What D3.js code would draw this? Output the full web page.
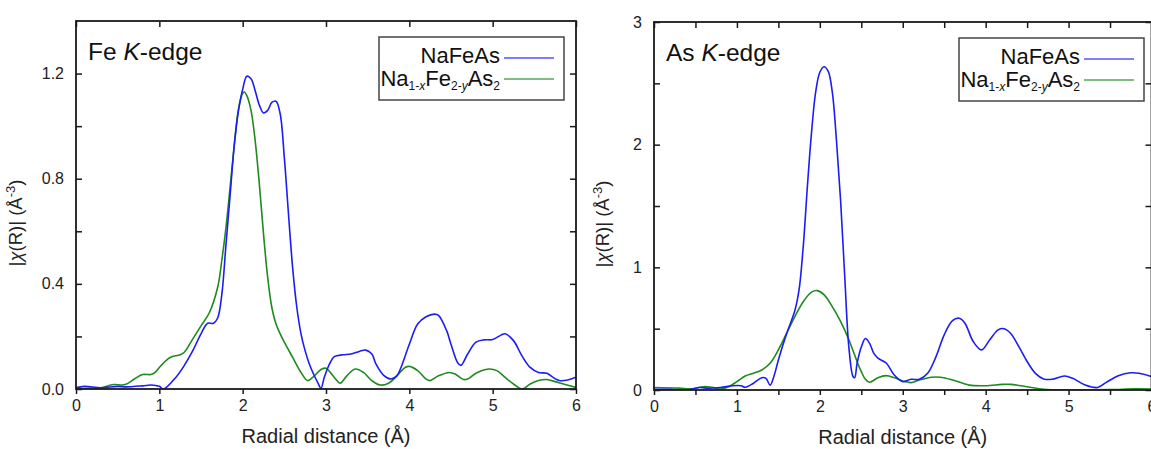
<!DOCTYPE html>
<html>
<head>
<meta charset="utf-8">
<script src="https://cdn.jsdelivr.net/npm/d3@7"></script>
<style>
  html, body { margin: 0; padding: 0; background: #fff; }
  svg { display: block; font-family: "Liberation Sans", Arial, sans-serif; }
</style>
</head>
<body>
<svg id="chart" width="1151" height="449"></svg>
<script>
// Fourier-transform magnitudes |χ(R)| for NaFeAs and Na1-xFe2-yAs2

const seriesNames = ["NaFeAs", "Na1-xFe2-yAs2"];

// Fe K-edge
const feR_NaFeAs = [0,0.1,0.3,0.5,0.6,0.8,0.9,1.0,1.05,1.2,1.3,1.4,1.5,1.58,1.65,1.7,1.75,1.8,1.85,1.9,1.95,2.0,2.05,2.1,2.15,2.2,2.25,2.3,2.35,2.4,2.45,2.5,2.55,2.6,2.65,2.7,2.75,2.8,2.85,2.9,2.94,2.98,3.05,3.1,3.2,3.3,3.4,3.48,3.55,3.6,3.7,3.78,3.85,3.9,4.0,4.1,4.2,4.3,4.35,4.45,4.5,4.58,4.62,4.7,4.8,4.9,5.0,5.1,5.15,5.25,5.35,5.45,5.55,5.65,5.72,5.8,5.9,6.0];
const feChi_NaFeAs = [0.005,0.01,0.005,0.01,0.008,0.012,0.015,0.01,0.0,0.045,0.09,0.145,0.21,0.25,0.25,0.27,0.36,0.55,0.74,0.93,1.06,1.14,1.19,1.18,1.135,1.08,1.05,1.06,1.09,1.095,1.047,0.88,0.665,0.46,0.31,0.21,0.145,0.095,0.057,0.025,0.003,0.045,0.10,0.123,0.13,0.133,0.143,0.148,0.133,0.095,0.05,0.038,0.05,0.082,0.17,0.247,0.275,0.285,0.28,0.22,0.17,0.10,0.09,0.133,0.178,0.187,0.188,0.205,0.21,0.184,0.127,0.082,0.063,0.06,0.045,0.032,0.034,0.045];

const feR_NaFe2As2 = [0,0.2,0.3,0.45,0.55,0.6,0.7,0.8,0.9,0.95,1.0,1.1,1.15,1.25,1.3,1.4,1.5,1.6,1.7,1.75,1.8,1.85,1.9,1.95,2.0,2.02,2.05,2.1,2.15,2.2,2.25,2.3,2.35,2.4,2.45,2.5,2.6,2.7,2.78,2.85,2.95,3.0,3.1,3.17,3.25,3.35,3.45,3.55,3.65,3.75,3.85,3.95,4.0,4.1,4.2,4.25,4.35,4.48,4.55,4.65,4.7,4.8,4.95,5.05,5.15,5.25,5.35,5.45,5.55,5.65,5.75,5.85,6.0];
const feChi_NaFe2As2 = [0.0,0.003,0.005,0.017,0.015,0.018,0.038,0.055,0.055,0.063,0.082,0.114,0.123,0.13,0.14,0.19,0.24,0.29,0.387,0.49,0.615,0.77,0.93,1.065,1.125,1.13,1.116,1.06,0.945,0.78,0.59,0.425,0.31,0.247,0.21,0.178,0.12,0.063,0.032,0.047,0.076,0.079,0.044,0.022,0.05,0.076,0.063,0.032,0.015,0.022,0.05,0.082,0.086,0.07,0.038,0.032,0.05,0.063,0.057,0.036,0.038,0.06,0.076,0.07,0.044,0.019,0.0,0.019,0.032,0.036,0.028,0.019,0.006];

// As K-edge
const asR_NaFeAs = [0,0.2,0.4,0.55,0.65,0.8,0.95,1.05,1.1,1.2,1.3,1.35,1.4,1.45,1.5,1.6,1.7,1.75,1.8,1.85,1.9,1.95,2.0,2.05,2.1,2.15,2.2,2.25,2.3,2.35,2.4,2.42,2.45,2.5,2.55,2.6,2.65,2.7,2.8,2.9,3.0,3.1,3.2,3.3,3.4,3.5,3.6,3.68,3.75,3.85,3.95,4.05,4.15,4.22,4.3,4.4,4.5,4.6,4.7,4.8,4.95,5.05,5.2,5.35,5.45,5.6,5.75,5.85,6.0];
const asChi_NaFeAs = [0.005,0.005,0.0,0.02,0.014,0.02,0.035,0.035,0.022,0.055,0.10,0.095,0.04,0.12,0.245,0.46,0.65,0.82,1.17,1.66,2.1,2.43,2.59,2.635,2.60,2.43,2.04,1.55,0.93,0.35,0.11,0.10,0.22,0.35,0.42,0.38,0.30,0.26,0.22,0.12,0.068,0.087,0.087,0.136,0.27,0.45,0.565,0.585,0.545,0.395,0.327,0.41,0.49,0.50,0.463,0.354,0.232,0.136,0.09,0.087,0.114,0.095,0.04,0.02,0.06,0.117,0.14,0.136,0.11];

const asR_NaFe2As2 = [0,0.3,0.45,0.6,0.7,0.8,0.9,1.0,1.1,1.2,1.3,1.4,1.5,1.6,1.7,1.8,1.9,1.97,2.05,2.15,2.25,2.35,2.45,2.5,2.55,2.6,2.7,2.8,2.9,3.0,3.1,3.2,3.35,3.45,3.6,3.8,4.0,4.2,4.3,4.5,4.7,5.0,5.5,5.8,6.0];
const asChi_NaFe2As2 = [0.02,0.015,0.01,0.027,0.022,0.008,0.027,0.068,0.114,0.136,0.163,0.218,0.327,0.463,0.6,0.72,0.798,0.81,0.777,0.68,0.56,0.41,0.23,0.15,0.087,0.063,0.10,0.117,0.10,0.074,0.06,0.082,0.104,0.104,0.082,0.04,0.035,0.046,0.046,0.027,0.005,0.0,0.003,0.01,0.008];

// Axis ticks
const feYTicks = [0, 0.2, 0.4, 0.6, 0.8, 1.0, 1.2];
const feYLabels = [0, 0.4, 0.8, 1.2];
const feXTicks = [0, 1, 2, 3, 4, 5, 6];
const asYTicks = [0, 0.5, 1, 1.5, 2, 2.5, 3];
const asYLabels = [0, 1, 2, 3];
const asXTicks = [0, 0.5, 1, 1.5, 2, 2.5, 3, 3.5, 4, 4.5, 5, 5.5, 6];
const asXLabels = [0, 1, 2, 3, 4, 5, 6];

const colors = { blue: "#1c1cf5", green: "#1f8a1f" };

const svg = d3.select("#chart");

function zip(xs, ys) { return xs.map((x, i) => [x, ys[i]]); }

function panel(opt) {
  const { left, right, top, bottom, yMax, yTicks, yLabels, xTicks, xLabels, yFmt, title, seriesA, seriesB, legendX, yTitleX } = opt;
  const x = d3.scaleLinear().domain([0, 6]).range([left, right]);
  const y = d3.scaleLinear().domain([0, yMax]).range([bottom, top]);
  const g = svg.append("g");
  const tickLen = 6;

  // clip for curves
  const clipId = "clip" + Math.round(left);
  svg.append("clipPath").attr("id", clipId)
    .append("rect").attr("x", left).attr("y", top).attr("width", right - left).attr("height", bottom - top);

  const line = d3.line().x(d => x(d[0])).y(d => y(d[1])).curve(d3.curveCatmullRom.alpha(0.5));

  const curves = g.append("g").attr("clip-path", `url(#${clipId})`);
  curves.append("path").datum(seriesB).attr("d", line)
    .attr("fill", "none").attr("stroke", colors.green).attr("stroke-width", 1.6);
  curves.append("path").datum(seriesA).attr("d", line)
    .attr("fill", "none").attr("stroke", colors.blue).attr("stroke-width", 1.6);

  // axes (ticks on the four sides)
  const axL = d3.axisLeft(y).tickValues(yTicks).tickSize(-tickLen).tickFormat(d => yLabels.includes(d) ? yFmt(d) : "").tickPadding(tickLen + 6);
  const axR = d3.axisRight(y).tickValues(yTicks).tickSize(-tickLen).tickFormat("");
  const axB = d3.axisBottom(x).tickValues(xTicks).tickSize(5).tickFormat(d => xLabels.includes(d) ? d3.format("d")(d) : "").tickPadding(6);
  const axT = d3.axisTop(x).tickValues(xTicks).tickSize(-tickLen).tickFormat("");

  const styleAxis = sel => {
    sel.select(".domain").remove();
    sel.selectAll("line").attr("stroke", "#1a1a1a").attr("stroke-width", 1.5);
    sel.selectAll("text").attr("fill", "#222").attr("font-size", 16).attr("font-family", "Liberation Sans, Arial, sans-serif");
  };
  g.append("g").attr("transform", `translate(${left},0)`).call(axL).call(styleAxis);
  g.append("g").attr("transform", `translate(${right},0)`).call(axR).call(styleAxis);
  g.append("g").attr("transform", `translate(0,${bottom})`).call(axB).call(styleAxis);
  g.append("g").attr("transform", `translate(0,${top})`).call(axT).call(styleAxis);

  // frame
  g.append("rect").attr("x", left).attr("y", top).attr("width", right - left).attr("height", bottom - top)
    .attr("fill", "none").attr("stroke", "#1a1a1a").attr("stroke-width", 1.8);

  // panel title
  const t = g.append("text").attr("x", left + 12).attr("y", top + 39).attr("font-size", 24.5).attr("fill", "#111");
  t.append("tspan").text(title + " ");
  t.append("tspan").attr("font-style", "italic").text("K");
  t.append("tspan").text("-edge");

  // axis titles
  g.append("text").attr("x", (left + right) / 2).attr("y", bottom + 54)
    .attr("text-anchor", "middle").attr("font-size", 20).attr("fill", "#222")
    .text("Radial distance (Å)");

  const yt = g.append("text")
    .attr("transform", `translate(${yTitleX},${(top + bottom) / 2 + 18}) rotate(-90)`)
    .attr("text-anchor", "middle").attr("font-size", 18.5).attr("fill", "#222");
  yt.append("tspan").text("|");
  yt.append("tspan").attr("font-style", "italic").text("χ");
  yt.append("tspan").text("(R)| (Å");
  yt.append("tspan").attr("dy", -7).attr("font-size", 13).text("-3");
  yt.append("tspan").attr("dy", 7).text(")");

  // legend
  const lg = g.append("g");
  lg.append("rect").attr("x", legendX).attr("y", top + 16).attr("width", 185).attr("height", 63)
    .attr("fill", "#fff").attr("stroke", "#444").attr("stroke-width", 1.5);
  const textRight = legendX + 121;
  const row1 = top + 37, row2 = top + 58;
  lg.append("text").attr("x", textRight).attr("y", row1 + 5).attr("text-anchor", "end")
    .attr("font-size", 22).attr("fill", "#111").text(seriesNames[0]);
  const l2 = lg.append("text").attr("x", textRight).attr("y", row2 + 7).attr("text-anchor", "end")
    .attr("font-size", 22).attr("fill", "#111");
  l2.append("tspan").text("Na");
  l2.append("tspan").attr("dy", 4).attr("font-size", 12).text("1-");
  l2.append("tspan").attr("font-size", 12).attr("font-style", "italic").text("x");
  l2.append("tspan").attr("dy", -4).text("Fe");
  l2.append("tspan").attr("dy", 4).attr("font-size", 12).text("2-");
  l2.append("tspan").attr("font-size", 12).attr("font-style", "italic").text("y");
  l2.append("tspan").attr("dy", -4).text("As");
  l2.append("tspan").attr("dy", 4).attr("font-size", 12).text("2");
  lg.append("line").attr("x1", textRight + 4).attr("x2", textRight + 54).attr("y1", row1).attr("y2", row1)
    .attr("stroke", colors.blue).attr("stroke-width", 1.6).attr("opacity", 0.75);
  lg.append("line").attr("x1", textRight + 4).attr("x2", textRight + 54).attr("y1", row2).attr("y2", row2)
    .attr("stroke", colors.green).attr("stroke-width", 1.6).attr("opacity", 0.75);
}

panel({
  left: 76, right: 576, top: 21, bottom: 389, yMax: 1.4,
  yTicks: feYTicks, yLabels: feYLabels, xTicks: feXTicks, xLabels: feXTicks,
  yFmt: d3.format(".1f"), title: "Fe",
  seriesA: zip(feR_NaFeAs, feChi_NaFeAs), seriesB: zip(feR_NaFe2As2, feChi_NaFe2As2),
  legendX: 379, yTitleX: 22
});

panel({
  left: 654, right: 1151.5, top: 22, bottom: 390, yMax: 3,
  yTicks: asYTicks, yLabels: asYLabels, xTicks: asXTicks, xLabels: asXLabels,
  yFmt: d3.format("d"), title: "As",
  seriesA: zip(asR_NaFeAs, asChi_NaFeAs), seriesB: zip(asR_NaFe2As2, asChi_NaFe2As2),
  legendX: 959, yTitleX: 609
});
</script>
</body>
</html>
